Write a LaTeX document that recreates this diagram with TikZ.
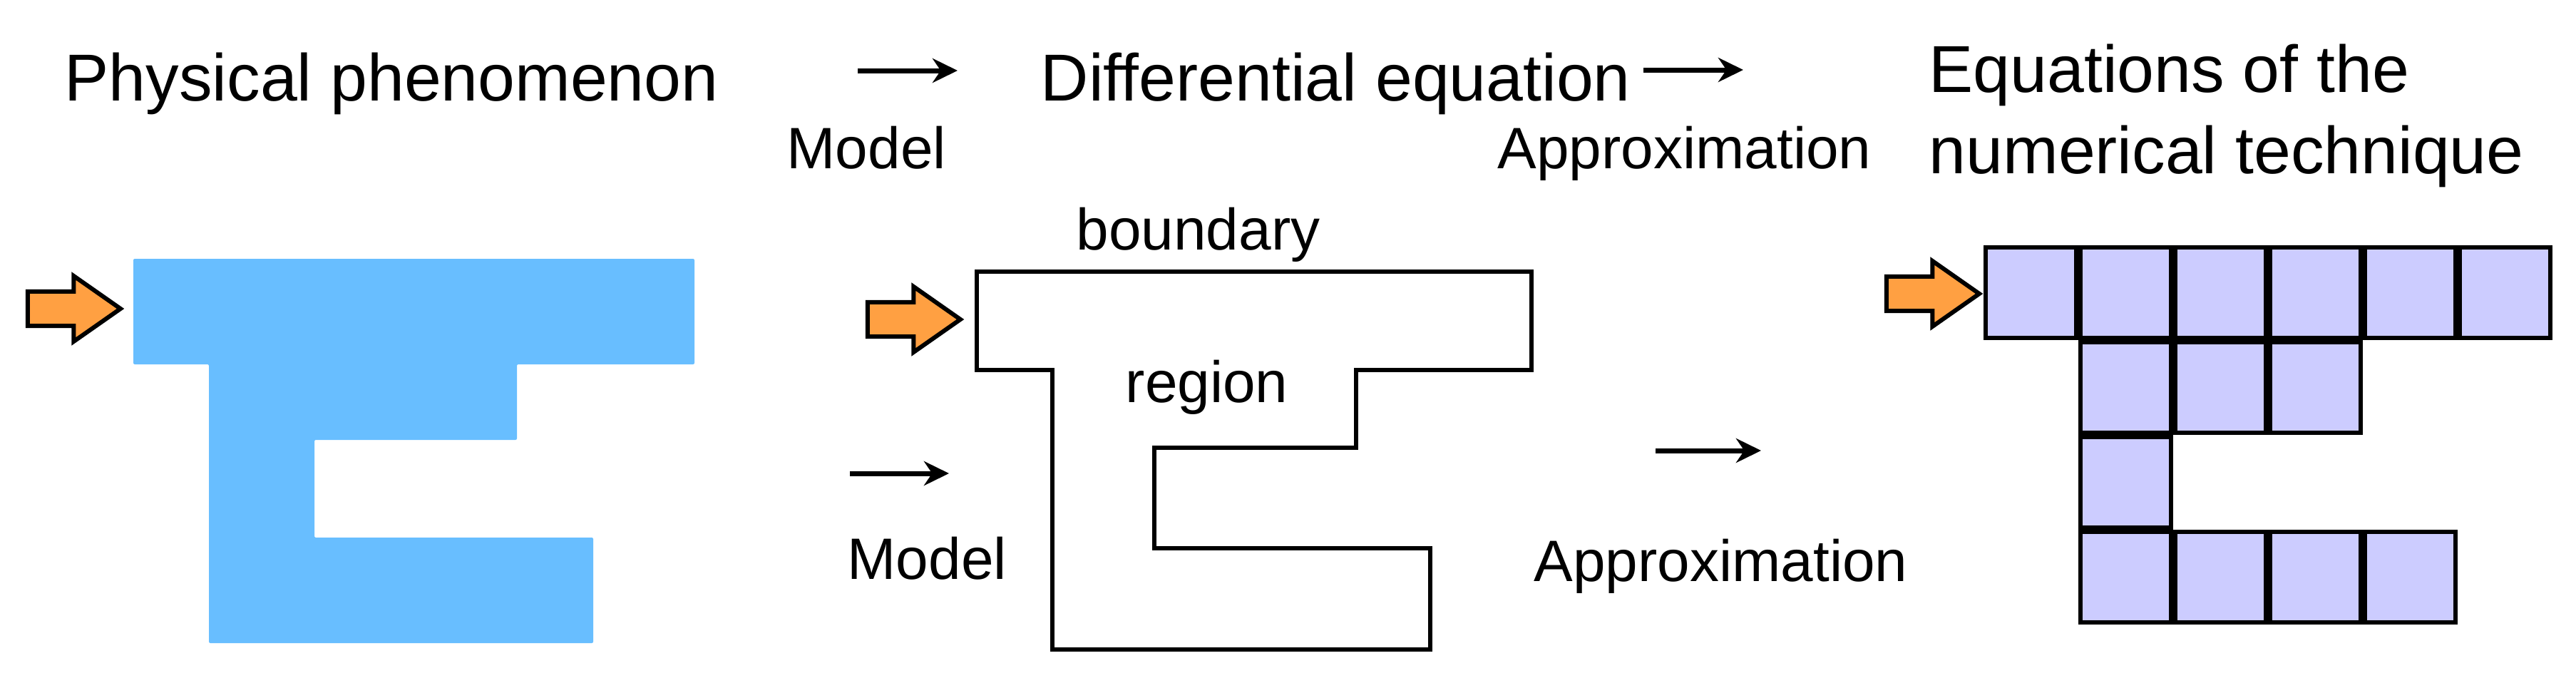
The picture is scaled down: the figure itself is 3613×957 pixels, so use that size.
\documentclass[tikz,border=0pt]{standalone}
\usepackage{fontspec}
\setmainfont{Liberation Sans}
\usetikzlibrary{arrows.meta,shapes.arrows}
\definecolor{flowblue}{RGB}{104,190,255}
\definecolor{inletorange}{RGB}{255,160,66}
\definecolor{celllilac}{RGB}{204,204,255}
\tikzstyle{inlet}=[single arrow,draw,fill=inletorange,line width=0.06cm,minimum height=1.30cm,inner xsep=0pt,inner ysep=0.21cm,single arrow head extend=0.22cm,single arrow tip angle=70,outer sep=0pt,anchor=tip]
\tikzstyle{meshcell}=[draw,fill=celllilac,line width=0.06cm,minimum size=1.27cm,inner sep=0pt]
\tikzstyle{title}=[font=\fontsize{26.5}{32}\selectfont,inner sep=0pt,anchor=base west]
\tikzstyle{tag}=[font=\fontsize{23.3}{28}\selectfont,inner sep=0pt,anchor=base west]
\tikzstyle{flow}=[line width=0.07cm,-{Stealth[length=0.35cm,width=0.34cm]}]

\begin{document}
\begin{tikzpicture}[x=0.01cm,y=-0.01cm]
    \useasboundingbox (0,0) rectangle (3613,957);
    \node [title] (phys) at (90,141) {Physical phenomenon};
    \node [title] (diff) at (1459,141) {Differential equation};
    \node [title] (eqn1) at (2705,129) {Equations of the};
    \node [title] (eqn2) at (2705,243) {numerical technique};
    \node [tag] (model1) at (1103,236) {Model};
    \node [tag] (approx1) at (2100,236) {Approximation};
    \coordinate (m1a) at (1203,99);
    \coordinate (m1b) at (1343,99);
    \coordinate (a1a) at (2305,98);
    \coordinate (a1b) at (2445,98);
    \draw [flow] (m1a) -- (m1b);
    \draw [flow] (a1a) -- (a1b);

    \fill [flowblue,rounded corners=0.02cm] (187,363) -- (974,363) -- (974,511)
      -- (725,511) -- (725,617) -- (441,617) -- (441,754) -- (832,754)
      -- (832,902) -- (293,902) -- (293,511) -- (187,511) -- cycle;
    \node [inlet] (in1) at (169,433) {};

    \draw [line width=0.06cm] (1370,381) -- (2148,381) -- (2148,519)
      -- (1902,519) -- (1902,628) -- (1619,628) -- (1619,769) -- (2006,769)
      -- (2006,911) -- (1476,911) -- (1476,519) -- (1370,519) -- cycle;
    \node [inlet] (in2) at (1347,448) {};
    \node [tag] (bnd) at (1509,350) {boundary};
    \node [tag] (reg) at (1578,564) {region};
    \coordinate (m2a) at (1192,664);
    \coordinate (m2b) at (1331,664);
    \draw [flow] (m2a) -- (m2b);
    \node [tag] (model2) at (1188,812) {Model};
    \coordinate (a2a) at (2322,632);
    \coordinate (a2b) at (2470,632);
    \draw [flow] (a2a) -- (a2b);
    \node [tag] (approx2) at (2151,815) {Approximation};

    \foreach \c/\r in {0/0,1/0,2/0,3/0,4/0,5/0,1/1,2/1,3/1,1/2,1/3,2/3,3/3,4/3}
      \node [meshcell] (cell-\c-\r) at ({2848.5+133*\c},{410.5+133*\r}) {};
    \node [inlet] (in3) at (2776,412) {};
\end{tikzpicture}
\end{document}
